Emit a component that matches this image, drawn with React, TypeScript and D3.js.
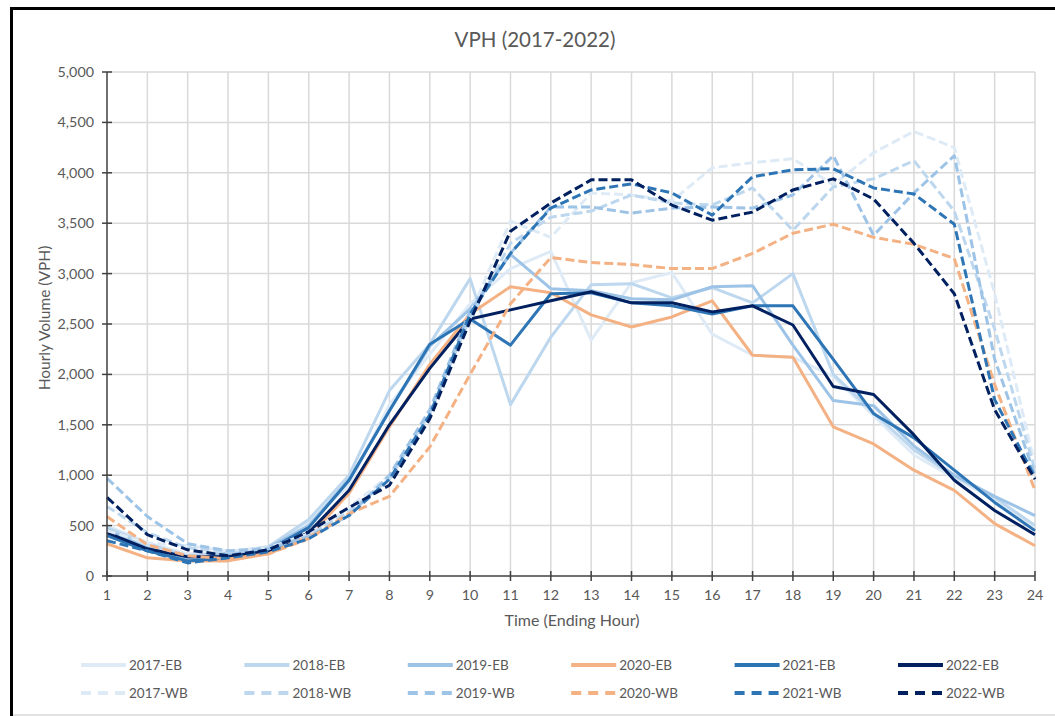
import React from "react";
import * as d3 from "d3";

const hours = d3.range(1, 25);
const yTicks = [0, 500, 1000, 1500, 2000, 2500, 3000, 3500, 4000, 4500, 5000];

const years = ["2017", "2018", "2019", "2020", "2021", "2022"];
const yearColors = ["#DEEBF7", "#BDD7EE", "#9DC3E6", "#F4B183", "#2E75B6", "#002060"];

const EB2017 = [500, 330, 220, 240, 290, 530, 900, 1700, 2200, 2700, 3050, 3220, 2340, 2910, 3010, 2400, 2190, 2170, 1980, 1590, 1200, 970, 760, 490];
const EB2018 = [480, 320, 200, 230, 290, 560, 1000, 1840, 2300, 2950, 1700, 2370, 2890, 2900, 2760, 2860, 2710, 3000, 2000, 1620, 1250, 990, 780, 500];
const EB2019 = [460, 280, 170, 220, 280, 500, 960, 1640, 2280, 2650, 3190, 2850, 2830, 2750, 2740, 2870, 2880, 2290, 1740, 1690, 1290, 1000, 790, 600];
const EB2020 = [320, 180, 150, 150, 220, 390, 820, 1480, 2100, 2600, 2870, 2810, 2590, 2470, 2570, 2730, 2190, 2170, 1480, 1310, 1050, 850, 520, 300];
const EB2021 = [400, 250, 150, 180, 260, 480, 950, 1640, 2300, 2550, 2290, 2800, 2810, 2710, 2680, 2600, 2680, 2680, 2150, 1610, 1370, 1050, 730, 450];
const EB2022 = [430, 270, 190, 190, 250, 430, 850, 1500, 2060, 2550, 2640, 2730, 2820, 2710, 2710, 2620, 2680, 2490, 1880, 1800, 1400, 950, 650, 410];

const WB2017 = [450, 330, 300, 250, 280, 420, 680, 1000, 1600, 2600, 3520, 3360, 3800, 3780, 3720, 4050, 4100, 4140, 3880, 4200, 4410, 4250, 2800, 1100];
const WB2018 = [690, 430, 280, 240, 270, 400, 640, 960, 1620, 2560, 3300, 3560, 3620, 3780, 3700, 3680, 3850, 3430, 3860, 3940, 4120, 3620, 2450, 1050];
const WB2019 = [970, 590, 320, 250, 270, 390, 600, 1000, 1650, 2630, 3200, 3660, 3660, 3600, 3650, 3660, 3650, 3780, 4170, 3380, 3800, 4170, 2150, 1000];
const WB2020 = [590, 310, 200, 170, 220, 370, 620, 790, 1280, 2000, 2700, 3160, 3110, 3090, 3050, 3050, 3200, 3400, 3490, 3360, 3290, 3150, 1900, 850];
const WB2021 = [350, 250, 130, 180, 240, 370, 600, 960, 1600, 2600, 3200, 3650, 3830, 3890, 3800, 3580, 3960, 4030, 4040, 3850, 3790, 3490, 1750, 980];
const WB2022 = [780, 410, 260, 200, 260, 440, 680, 900, 1560, 2530, 3420, 3700, 3930, 3930, 3680, 3530, 3610, 3830, 3940, 3740, 3300, 2800, 1650, 960];

const ebSeries = [EB2017, EB2018, EB2019, EB2020, EB2021, EB2022];
const wbSeries = [WB2017, WB2018, WB2019, WB2020, WB2021, WB2022];

const FONT = "Lato, 'Open Sans', sans-serif";
const TEXT = "#595959";

export default function App() {
  const W = 1055, H = 716;
  const x = d3.scaleLinear().domain([1, 24]).range([107, 1035]);
  const y = d3.scaleLinear().domain([0, 5000]).range([576, 72]);
  const line = d3.line<number>().x((_, i) => x(hours[i])).y((d) => y(d));
  const fmt = d3.format(",");
  const DASH = "9,4";

  const legendItems = [
    ...years.map((yr, i) => ({ label: `${yr}-EB`, color: yearColors[i], dash: null as string | null, row: 0, col: i })),
    ...years.map((yr, i) => ({ label: `${yr}-WB`, color: yearColors[i], dash: "10,7", row: 1, col: i })),
  ];

  return (
    <svg width={W} height={H} style={{ position: "absolute", left: 0, top: 0, background: "#fff" }}>
      <rect x={0} y={0} width={W} height={H} fill="#fff" />
      {/* frame */}
      <line x1={10} x2={W} y1={8.5} y2={8.5} stroke="#000" strokeWidth={3} />
      <line x1={11.5} x2={11.5} y1={7} y2={H} stroke="#000" strokeWidth={3} />
      <line x1={13} x2={W} y1={715} y2={715} stroke="#D9D9D9" strokeWidth={1.5} />

      <text x={535} y={47} textAnchor="middle" fontFamily={FONT} fontSize={20.5} fill={TEXT}>VPH (2017-2022)</text>

      {/* gridlines */}
      {yTicks.filter((t) => t > 0).map((t) => (
        <line key={"gy" + t} x1={x(1)} x2={x(24)} y1={y(t)} y2={y(t)} stroke="#D9D9D9" strokeWidth={1.5} />
      ))}
      {hours.filter((h) => h > 1).map((h) => (
        <line key={"gx" + h} x1={x(h)} x2={x(h)} y1={y(5000)} y2={y(0)} stroke="#D9D9D9" strokeWidth={1.5} />
      ))}

      {/* series */}
      {ebSeries.map((s, i) => (
        <path key={"eb" + i} d={line(s) || ""} fill="none" stroke={yearColors[i]} strokeWidth={3} strokeLinejoin="round" />
      ))}
      {wbSeries.map((s, i) => (
        <path key={"wb" + i} d={line(s) || ""} fill="none" stroke={yearColors[i]} strokeWidth={3} strokeDasharray={DASH} strokeLinejoin="round" />
      ))}

      {/* axes */}
      <line x1={x(1)} x2={x(1)} y1={y(5000)} y2={y(0)} stroke="#404040" strokeWidth={1.5} />
      <line x1={x(1)} x2={x(24)} y1={y(0)} y2={y(0)} stroke="#404040" strokeWidth={1.5} />
      {yTicks.map((t) => (
        <g key={"yt" + t}>
          <line x1={x(1) - 5} x2={x(1) + 5} y1={y(t)} y2={y(t)} stroke="#404040" strokeWidth={1.5} />
          <text x={94} y={y(t)} dy="0.35em" textAnchor="end" fontFamily={FONT} fontSize={14.3} fill={TEXT}>{fmt(t)}</text>
        </g>
      ))}
      {hours.map((h) => (
        <g key={"xt" + h}>
          <line x1={x(h)} x2={x(h)} y1={y(0) - 5} y2={y(0) + 5} stroke="#404040" strokeWidth={1.5} />
          <text x={x(h)} y={600} textAnchor="middle" fontFamily={FONT} fontSize={14.3} fill={TEXT}>{h}</text>
        </g>
      ))}

      <text x={572} y={626} textAnchor="middle" fontFamily={FONT} fontSize={16} fill={TEXT}>Time (Ending Hour)</text>
      <text transform={`translate(50,${y(2500) - 6}) rotate(-90)`} textAnchor="middle" fontFamily={FONT} fontSize={15.5} fill={TEXT}>Hourly Volume (VPH)</text>

      {/* legend */}
      {legendItems.map((it) => {
        const lx = 81 + it.col * 163.4;
        const ly = 665 + it.row * 28;
        return (
          <g key={it.label}>
            <line x1={lx} x2={lx + 45} y1={ly} y2={ly} stroke={it.color} strokeWidth={4} strokeDasharray={it.dash || undefined} />
            <text x={lx + 48} y={ly} dy="0.35em" fontFamily={FONT} fontSize={13.5} fill={TEXT}>{it.label}</text>
          </g>
        );
      })}
    </svg>
  );
}
